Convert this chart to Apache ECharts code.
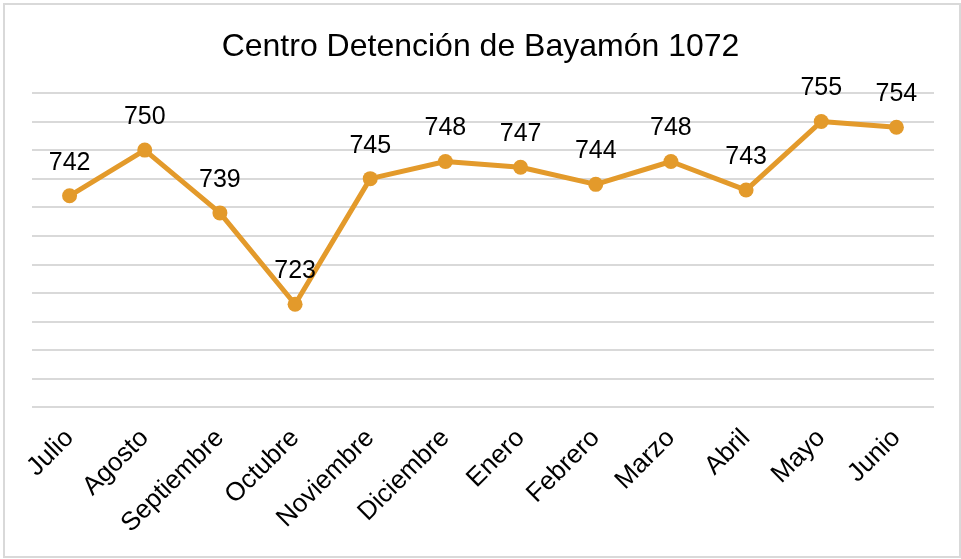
<!DOCTYPE html>
<html>
<head>
<meta charset="utf-8">
<script src="https://cdn.jsdelivr.net/npm/echarts@6/dist/echarts.min.js"></script>
<style>
  html, body { margin: 0; padding: 0; background: #fff; }
  #main { position: absolute; left: 0; top: 0; width: 961px; height: 559px; }
  #frame { position: absolute; left: 3px; top: 3px; width: 958px; height: 555px;
           box-sizing: border-box; border: 2px solid #d9d9d9; pointer-events: none; }
</style>
</head>
<body>
<div id="main"></div>
<div id="frame"></div>
<script>
// meses del año fiscal
var meses = ['Julio', 'Agosto', 'Septiembre', 'Octubre', 'Noviembre', 'Diciembre',
             'Enero', 'Febrero', 'Marzo', 'Abril', 'Mayo', 'Junio'];
// población por mes
var poblacion = [742, 750, 739, 723, 745, 748, 747, 744, 748, 743, 755, 754];

var chart = echarts.init(document.getElementById('main'));

chart.setOption({
    animation: false,
    title: {
        text: 'Centro Detención de Bayamón 1072',
        left: 'center',
        top: 26,
        textStyle: {
            fontFamily: 'Liberation Sans',
            fontSize: 32,
            fontWeight: 'normal',
            color: '#000'
        }
    },
    grid: {
        left: 32,
        right: 27,
        top: 93,
        bottom: 152
    },
    xAxis: {
        type: 'category',
        data: meses,
        boundaryGap: true,
        axisLine: { show: false },
        axisTick: { show: false },
        axisLabel: {
            rotate: 45,
            margin: 27,
            fontFamily: 'Liberation Sans',
            fontSize: 26,
            color: '#000'
        }
    },
    yAxis: {
        type: 'value',
        min: 705,
        max: 760,
        interval: 5,
        axisLabel: { show: false },
        axisLine: { show: false },
        axisTick: { show: false },
        splitLine: {
            lineStyle: { color: '#d9d9d9', width: 2 }
        }
    },
    series: [
        {
            name: 'Bayamón 1072',
            type: 'line',
            data: poblacion,
            symbol: 'circle',
            symbolSize: 15,
            lineStyle: { color: '#e39a2b', width: 5 },
            itemStyle: { color: '#e39a2b' },
            label: {
                show: true,
                position: 'top',
                distance: 13,
                fontFamily: 'Liberation Sans',
                fontSize: 25,
                color: '#000'
            }
        }
    ]
});
</script>
</body>
</html>
